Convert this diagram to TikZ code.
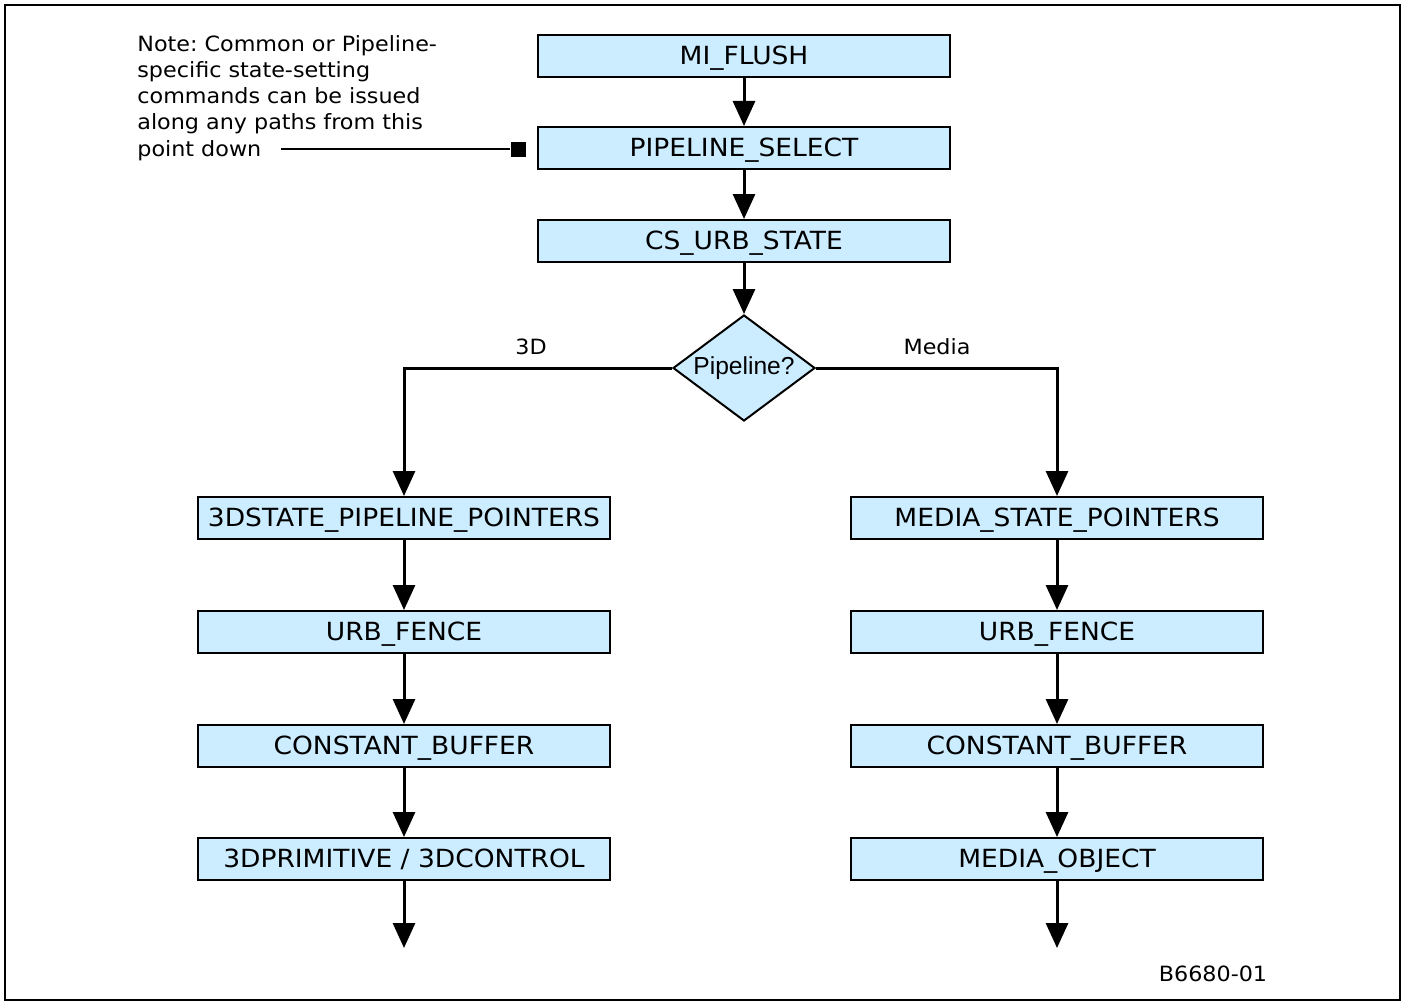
\documentclass[tikz,border=0pt]{standalone}
\usepackage{fontspec}
\setmainfont[FakeStretch = 1.06]{DejaVu Sans}
\newfontfamily\arialfont{Liberation Sans}
\usetikzlibrary{arrows.meta,shapes.geometric}
\definecolor{boxblue}{RGB}{204,236,255}
\frenchspacing

\begin{document}
\begin{tikzpicture}[x = 0.5pt, y = -0.5pt,
        cmdbox/.style = {draw, line width = 1pt, fill = boxblue, minimum width = 206pt,
            minimum height = 21pt, inner sep = 0pt, text height = 9.2pt, text depth = 0.8pt,
            font = \fontsize{12.5}{14}\selectfont},
        decision/.style = {draw, line width = 1pt, fill = boxblue, shape = diamond, aspect = 1.34,
            minimum width = 71pt, minimum height = 53pt, inner sep = 0pt,
            font = \arialfont\fontsize{12.3}{14}\selectfont},
        flow/.style = {line width = 1.5pt, -{Triangle[length = 12.5pt, width = 11pt]}},
        small/.style = {font = \fontsize{10.5}{13.1}\selectfont, inner sep = 0pt}]
        \useasboundingbox (0, 0) rectangle (1406, 1006);
        \draw[line width = 1pt] (5, 5) rectangle (1400, 1000);

        % common part
        \node[cmdbox] (flush) at (744, 56) {MI\_FLUSH};
        \node[cmdbox] (select) at (744, 148) {PIPELINE\_SELECT};
        \node[cmdbox] (urbstate) at (744, 241) {CS\_URB\_STATE};
        \node[decision] (pipe) at (744, 368) {Pipeline?};

        \draw[flow] (flush) -- (select);
        \draw[flow] (select) -- (urbstate);
        \draw[flow] (urbstate) -- (pipe);

        % note
        \node[small, anchor = north west, align = left] (note) at (137, 35)
            {Note: Common or Pipeline-\\specific state-setting\\commands can be issued\\along any paths from this\\point down};
        \coordinate (notetail) at (281, 149);
        \node[fill, minimum size = 7.5pt, inner sep = 0pt] (marker) at (518, 149) {};
        \draw[line width = 0.75pt] (notetail) -- (marker);

        % 3D pipeline
        \node[cmdbox] (ptrs3d) at (404, 518) {3DSTATE\_PIPELINE\_POINTERS};
        \node[cmdbox] (fence3d) at (404, 632) {URB\_FENCE};
        \node[cmdbox] (const3d) at (404, 746) {CONSTANT\_BUFFER};
        \node[cmdbox] (prim3d) at (404, 859) {3DPRIMITIVE / 3DCONTROL};
        \coordinate (end3d) at (404, 948);

        \draw[flow] (pipe.west) -| (ptrs3d.north);
        \draw[flow] (ptrs3d) -- (fence3d);
        \draw[flow] (fence3d) -- (const3d);
        \draw[flow] (const3d) -- (prim3d);
        \draw[flow] (prim3d) -- (end3d);
        \node[small] (label3d) at (531, 347) {3D};

        % media pipeline
        \node[cmdbox] (ptrsmedia) at (1057, 518) {MEDIA\_STATE\_POINTERS};
        \node[cmdbox] (fencemedia) at (1057, 632) {URB\_FENCE};
        \node[cmdbox] (constmedia) at (1057, 746) {CONSTANT\_BUFFER};
        \node[cmdbox] (objmedia) at (1057, 859) {MEDIA\_OBJECT};
        \coordinate (endmedia) at (1057, 948);

        \draw[flow] (pipe.east) -| (ptrsmedia.north);
        \draw[flow] (ptrsmedia) -- (fencemedia);
        \draw[flow] (fencemedia) -- (constmedia);
        \draw[flow] (constmedia) -- (objmedia);
        \draw[flow] (objmedia) -- (endmedia);
        \node[small] (labelmedia) at (937, 347) {Media};

        \node[small] (figid) at (1213, 974) {B6680-01};
    \end{tikzpicture}
\end{document}
